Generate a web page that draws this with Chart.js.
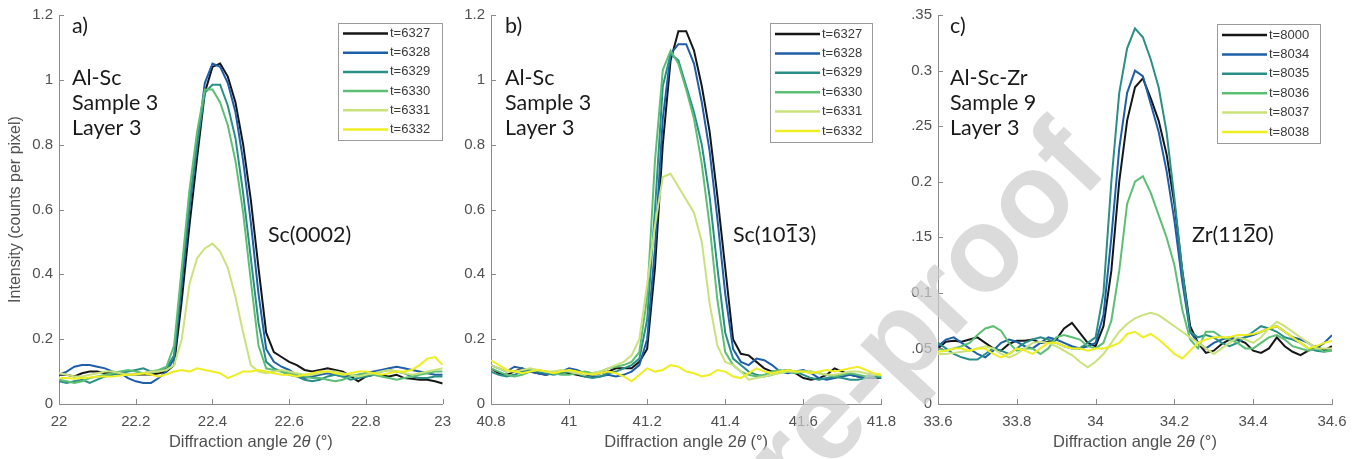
<!DOCTYPE html>
<html>
<head>
<meta charset="utf-8">
<script src="https://cdn.jsdelivr.net/npm/chart.js@4.4.1/dist/chart.umd.min.js"></script>
<style>
  body { margin: 0; background: #fff; width: 1362px; height: 459px; overflow: hidden; position: relative; }
  .panel { position: absolute; top: 0; height: 459px; }
  #wm { position: absolute; left: 0; top: 0; pointer-events: none; }
</style>
</head>
<body>
<div class="panel" style="left:0;width:460px"><canvas id="chartA" width="460" height="459"></canvas></div>
<div class="panel" style="left:460px;width:445px"><canvas id="chartB" width="445" height="459"></canvas></div>
<div class="panel" style="left:905px;width:457px"><canvas id="chartC" width="457" height="459"></canvas></div>
<canvas id="wm" width="1362" height="459"></canvas>
<script>
// ---- panel a) Al-Sc sample 3, Sc(0002) ----
const anglesA = [22.00,22.02,22.04,22.06,22.08,22.10,22.12,22.14,22.16,22.18,
                 22.20,22.22,22.24,22.26,22.28,22.30,22.32,22.34,22.36,22.38,
                 22.40,22.42,22.44,22.46,22.48,22.50,22.52,22.54,22.56,22.58,
                 22.60,22.62,22.64,22.66,22.68,22.70,22.72,22.74,22.76,22.78,
                 22.80,22.82,22.84,22.86,22.88,22.90,22.92,22.94,22.96,22.98,
                 23.00];
const namesA = ['t=6327','t=6328','t=6329','t=6330','t=6331','t=6332'];
const a6327 = [0.090,0.090,0.085,0.095,0.100,0.100,0.095,0.098,0.092,0.090,
               0.090,0.092,0.090,0.095,0.100,0.120,0.320,0.550,0.760,0.960,
               1.040,1.050,1.010,0.930,0.800,0.630,0.420,0.220,0.160,0.145,
               0.130,0.120,0.105,0.100,0.105,0.110,0.105,0.100,0.085,0.070,
               0.085,0.090,0.088,0.085,0.090,0.080,0.078,0.075,0.075,0.070,
               0.063];
const a6328 = [0.090,0.100,0.115,0.120,0.120,0.115,0.110,0.100,0.095,0.080,
               0.070,0.065,0.065,0.080,0.100,0.140,0.370,0.600,0.800,0.990,
               1.050,1.040,0.990,0.900,0.750,0.560,0.340,0.170,0.130,0.115,
               0.105,0.090,0.080,0.085,0.090,0.095,0.090,0.085,0.085,0.090,
               0.095,0.100,0.105,0.110,0.115,0.110,0.105,0.100,0.095,0.090,
               0.090];
const a6329 = [0.070,0.065,0.070,0.075,0.065,0.075,0.085,0.090,0.095,0.100,
               0.105,0.110,0.100,0.100,0.110,0.150,0.400,0.620,0.800,0.960,
               0.985,0.985,0.920,0.820,0.650,0.450,0.250,0.130,0.110,0.100,
               0.090,0.085,0.075,0.070,0.075,0.085,0.090,0.085,0.075,0.080,
               0.085,0.090,0.100,0.105,0.100,0.095,0.085,0.080,0.080,0.085,
               0.085];
const a6330 = [0.075,0.070,0.065,0.070,0.080,0.085,0.090,0.095,0.100,0.105,
               0.100,0.095,0.100,0.105,0.115,0.180,0.420,0.660,0.840,0.970,
               0.970,0.930,0.860,0.750,0.590,0.380,0.180,0.110,0.105,0.100,
               0.095,0.090,0.085,0.080,0.080,0.075,0.070,0.075,0.085,0.090,
               0.095,0.090,0.085,0.080,0.075,0.080,0.085,0.090,0.095,0.100,
               0.100];
const a6331 = [0.095,0.090,0.085,0.085,0.090,0.095,0.100,0.100,0.095,0.090,
               0.090,0.095,0.100,0.100,0.105,0.120,0.200,0.370,0.450,0.480,
               0.495,0.470,0.420,0.330,0.220,0.120,0.100,0.095,0.100,0.105,
               0.100,0.095,0.090,0.090,0.095,0.100,0.100,0.095,0.090,0.085,
               0.090,0.095,0.100,0.105,0.100,0.095,0.090,0.095,0.100,0.105,
               0.110];
const a6332 = [0.080,0.080,0.078,0.080,0.082,0.085,0.085,0.085,0.088,0.090,
               0.092,0.095,0.090,0.085,0.092,0.100,0.105,0.100,0.110,0.105,
               0.100,0.095,0.080,0.090,0.100,0.100,0.105,0.100,0.095,0.090,
               0.090,0.085,0.090,0.095,0.100,0.100,0.095,0.090,0.095,0.100,
               0.100,0.095,0.090,0.095,0.100,0.100,0.105,0.120,0.140,0.145,
               0.120];

// ---- panel b) Al-Sc sample 3, Sc(10-13) ----
const anglesB = [40.80,40.82,40.84,40.86,40.88,40.90,40.92,40.94,40.96,40.98,
                 41.00,41.02,41.04,41.06,41.08,41.10,41.12,41.14,41.16,41.18,
                 41.20,41.22,41.24,41.26,41.28,41.30,41.32,41.34,41.36,41.38,
                 41.40,41.42,41.44,41.46,41.48,41.50,41.52,41.54,41.56,41.58,
                 41.60,41.62,41.64,41.66,41.68,41.70,41.72,41.74,41.76,41.78,
                 41.80];
const namesB = ['t=6327','t=6328','t=6329','t=6330','t=6331','t=6332'];
const b6327 = [0.110,0.095,0.090,0.100,0.110,0.100,0.095,0.090,0.095,0.100,
               0.095,0.090,0.085,0.090,0.095,0.100,0.110,0.110,0.110,0.130,
               0.170,0.420,0.800,1.060,1.150,1.150,1.090,0.980,0.840,0.640,
               0.420,0.200,0.155,0.150,0.130,0.110,0.100,0.100,0.105,0.095,
               0.080,0.075,0.080,0.090,0.110,0.100,0.090,0.085,0.080,0.080,
               0.080];
const b6328 = [0.120,0.110,0.100,0.115,0.110,0.100,0.095,0.090,0.095,0.100,
               0.110,0.105,0.095,0.085,0.085,0.090,0.085,0.090,0.100,0.120,
               0.200,0.480,0.880,1.080,1.110,1.110,1.050,0.930,0.780,0.570,
               0.340,0.170,0.130,0.120,0.140,0.135,0.120,0.100,0.095,0.100,
               0.105,0.095,0.080,0.075,0.080,0.085,0.090,0.085,0.080,0.080,
               0.085];
const b6329 = [0.100,0.090,0.085,0.090,0.100,0.105,0.100,0.095,0.090,0.095,
               0.100,0.095,0.085,0.080,0.085,0.095,0.100,0.110,0.120,0.140,
               0.260,0.600,0.980,1.080,1.060,0.980,0.900,0.800,0.640,0.420,
               0.220,0.140,0.120,0.100,0.090,0.085,0.090,0.100,0.105,0.100,
               0.090,0.080,0.075,0.080,0.085,0.080,0.075,0.075,0.080,0.085,
               0.080];
const b6330 = [0.110,0.100,0.090,0.085,0.090,0.100,0.105,0.100,0.095,0.090,
               0.090,0.095,0.100,0.095,0.100,0.110,0.115,0.120,0.130,0.160,
               0.330,0.750,1.030,1.090,1.050,0.970,0.880,0.740,0.550,0.320,
               0.160,0.120,0.100,0.090,0.085,0.090,0.100,0.105,0.100,0.095,
               0.100,0.100,0.095,0.090,0.085,0.090,0.095,0.090,0.085,0.090,
               0.085];
const b6331 = [0.120,0.110,0.100,0.100,0.105,0.110,0.105,0.100,0.100,0.105,
               0.100,0.095,0.090,0.095,0.100,0.110,0.120,0.130,0.150,0.200,
               0.370,0.550,0.700,0.710,0.670,0.630,0.590,0.500,0.310,0.180,
               0.130,0.120,0.100,0.075,0.080,0.085,0.090,0.095,0.100,0.100,
               0.100,0.100,0.095,0.090,0.090,0.095,0.100,0.100,0.095,0.090,
               0.090];
const b6332 = [0.135,0.120,0.105,0.100,0.095,0.100,0.105,0.100,0.095,0.100,
               0.105,0.100,0.095,0.090,0.095,0.100,0.095,0.085,0.070,0.090,
               0.110,0.100,0.105,0.120,0.115,0.100,0.095,0.085,0.090,0.105,
               0.100,0.085,0.080,0.095,0.110,0.100,0.095,0.100,0.105,0.100,
               0.100,0.095,0.100,0.105,0.100,0.105,0.110,0.115,0.105,0.095,
               0.090];

// ---- panel c) Al-Sc-Zr sample 9, Zr(11-20) ----
const anglesC = [33.60,33.62,33.64,33.66,33.68,33.70,33.72,33.74,33.76,33.78,
                 33.80,33.82,33.84,33.86,33.88,33.90,33.92,33.94,33.96,33.98,
                 34.00,34.02,34.04,34.06,34.08,34.10,34.12,34.14,34.16,34.18,
                 34.20,34.22,34.24,34.26,34.28,34.30,34.32,34.34,34.36,34.38,
                 34.40,34.42,34.44,34.46,34.48,34.50,34.52,34.54,34.56,34.58,
                 34.60];
const namesC = ['t=8000','t=8034','t=8035','t=8036','t=8037','t=8038'];
const c8000 = [0.050,0.056,0.057,0.056,0.058,0.060,0.055,0.050,0.048,0.054,
               0.057,0.057,0.058,0.055,0.056,0.058,0.068,0.073,0.064,0.055,
               0.052,0.070,0.120,0.200,0.255,0.285,0.293,0.275,0.255,0.225,
               0.180,0.120,0.070,0.055,0.046,0.048,0.054,0.058,0.058,0.055,
               0.048,0.046,0.050,0.060,0.052,0.047,0.044,0.048,0.052,0.048,
               0.052];
const c8034 = [0.052,0.058,0.060,0.055,0.050,0.045,0.042,0.048,0.055,0.058,
               0.056,0.052,0.050,0.055,0.060,0.058,0.055,0.052,0.050,0.052,
               0.055,0.080,0.150,0.230,0.280,0.300,0.295,0.270,0.245,0.210,
               0.165,0.110,0.065,0.055,0.050,0.055,0.058,0.060,0.058,0.060,
               0.062,0.065,0.068,0.070,0.065,0.060,0.058,0.055,0.050,0.055,
               0.062];
const c8035 = [0.055,0.050,0.045,0.042,0.040,0.040,0.045,0.050,0.048,0.045,
               0.050,0.055,0.058,0.060,0.058,0.055,0.052,0.050,0.050,0.055,
               0.060,0.100,0.200,0.280,0.320,0.338,0.330,0.310,0.285,0.245,
               0.185,0.120,0.065,0.060,0.062,0.060,0.055,0.052,0.055,0.060,
               0.065,0.070,0.068,0.065,0.060,0.058,0.055,0.050,0.048,0.047,
               0.050];
const c8036 = [0.050,0.048,0.050,0.052,0.055,0.062,0.068,0.070,0.066,0.055,
               0.048,0.050,0.050,0.045,0.050,0.060,0.062,0.060,0.058,0.052,
               0.050,0.055,0.075,0.120,0.180,0.200,0.205,0.190,0.170,0.150,
               0.125,0.085,0.058,0.050,0.065,0.065,0.060,0.058,0.055,0.050,
               0.050,0.055,0.060,0.062,0.058,0.052,0.050,0.048,0.050,0.047,
               0.048];
const c8037 = [0.045,0.045,0.046,0.047,0.048,0.050,0.052,0.050,0.045,0.042,
               0.045,0.050,0.055,0.056,0.055,0.052,0.048,0.044,0.038,0.033,
               0.038,0.045,0.055,0.065,0.072,0.077,0.080,0.082,0.080,0.075,
               0.070,0.065,0.060,0.055,0.050,0.045,0.050,0.055,0.060,0.058,
               0.055,0.060,0.068,0.074,0.070,0.065,0.060,0.055,0.050,0.050,
               0.050];
const c8038 = [0.047,0.048,0.050,0.050,0.048,0.050,0.050,0.045,0.042,0.045,
               0.050,0.048,0.045,0.050,0.055,0.055,0.052,0.050,0.050,0.048,
               0.050,0.050,0.052,0.055,0.063,0.065,0.060,0.063,0.058,0.052,
               0.045,0.041,0.048,0.055,0.058,0.060,0.060,0.060,0.062,0.062,
               0.063,0.065,0.068,0.070,0.065,0.060,0.055,0.050,0.052,0.055,
               0.057];

// ticks
const xTicksA = [22, 22.2, 22.4, 22.6, 22.8, 23];
const xTickLabelsA = ['22', '22.2', '22.4', '22.6', '22.8', '23'];
const xTicksB = [40.8, 41, 41.2, 41.4, 41.6, 41.8];
const xTickLabelsB = ['40.8', '41', '41.2', '41.4', '41.6', '41.8'];
const xTicksC = [33.6, 33.8, 34, 34.2, 34.4, 34.6];
const xTickLabelsC = ['33.6', '33.8', '34', '34.2', '34.4', '34.6'];
const yTicksAB = [0, 0.2, 0.4, 0.6, 0.8, 1, 1.2];
const yTickLabelsAB = ['0', '0.2', '0.4', '0.6', '0.8', '1', '1.2'];
const yTicksC = [0, 0.05, 0.1, 0.15, 0.2, 0.25, 0.3, 0.35];
const yTickLabelsC = ['0', '.05', '0.1', '.15', '0.2', '.25', '0.3', '.35'];

const lineColors = ['#161616', '#1f5ea8', '#2a8f86', '#5cbf74', '#c9e27c', '#eeee22'];
const axisGray = '#8a8a8a';
const labelGray = '#505050';
const sansFont = '"Liberation Sans", Arial, sans-serif';
const noteFont = '21.5px Lato, "Open Sans", sans-serif';

// little inward tick marks, matlab style
const inwardTicks = {
  id: 'inwardTicks',
  afterDraw(chart) {
    const ctx = chart.ctx, a = chart.chartArea;
    const {x, y} = chart.scales;
    ctx.save();
    ctx.strokeStyle = axisGray;
    ctx.lineWidth = 1;
    ctx.beginPath();
    x.ticks.forEach(t => {
      const px = Math.round(x.getPixelForValue(t.value)) + 0.5;
      ctx.moveTo(px, a.bottom); ctx.lineTo(px, a.bottom - 5);
    });
    y.ticks.forEach(t => {
      const py = Math.round(y.getPixelForValue(t.value)) + 0.5;
      ctx.moveTo(a.left, py); ctx.lineTo(a.left + 5, py);
    });
    ctx.stroke();
    ctx.restore();
  }
};

// legend box drawn inside the plot
const boxLegend = {
  id: 'boxLegend',
  afterDatasetsDraw(chart, args, o) {
    const ctx = chart.ctx;
    ctx.save();
    ctx.fillStyle = '#fff';
    ctx.fillRect(o.left, o.top, o.width, o.height);
    ctx.strokeStyle = '#9a9a9a';
    ctx.lineWidth = 1;
    ctx.strokeRect(o.left + 0.5, o.top + 0.5, o.width, o.height);
    ctx.font = '13px ' + sansFont;
    ctx.textBaseline = 'middle';
    chart.data.datasets.forEach((ds, i) => {
      const yy = o.top + o.firstRow + i * o.rowGap;
      ctx.strokeStyle = ds.borderColor;
      ctx.lineWidth = 2.5;
      ctx.beginPath();
      ctx.moveTo(o.left + 5, yy);
      ctx.lineTo(o.left + 5 + o.lineLen, yy);
      ctx.stroke();
      ctx.fillStyle = '#3a3a3a';
      ctx.fillText(ds.label, o.left + 7 + o.lineLen, yy);
    });
    ctx.restore();
  }
};

// panel letter, sample notes and the peak name (with overbar digit)
const panelText = {
  id: 'panelText',
  afterDraw(chart, args, o) {
    const ctx = chart.ctx;
    ctx.save();
    ctx.fillStyle = '#1a1a1a';
    ctx.font = noteFont;
    ctx.textBaseline = 'alphabetic';
    o.lines.forEach((s, i) => ctx.fillText(s, o.x, o.y0 + i * o.gap + (i > 0 ? o.skip : 0)));
    let cx = o.peak.x;
    o.peak.parts.forEach((s, i) => {
      const w = ctx.measureText(s).width;
      ctx.fillText(s, cx, o.peak.y);
      if (i === o.peak.bar) ctx.fillRect(cx + 1, o.peak.y - 18, w - 2, 1.6);
      cx += w;
    });
    ctx.restore();
  }
};

// x title with italic theta
const xTitle = {
  id: 'xTitle',
  afterDraw(chart, args, o) {
    const ctx = chart.ctx, a = chart.chartArea;
    const parts = [['Diffraction angle 2', ''], ['\u03B8', 'italic '], [' (\u00B0)', '']];
    ctx.save();
    let total = 0;
    const widths = parts.map(([s, st]) => {
      ctx.font = st + '16.5px ' + sansFont;
      const w = ctx.measureText(s).width;
      total += w;
      return w;
    });
    let x = (a.left + a.right) / 2 - total / 2;
    ctx.fillStyle = labelGray;
    ctx.textBaseline = 'middle';
    parts.forEach(([s, st], i) => {
      ctx.font = st + '16.5px ' + sansFont;
      ctx.fillText(s, x, o.y);
      x += widths[i];
    });
    ctx.restore();
  }
};

function points(xs, ys) {
  return xs.map((x, i) => ({x: x, y: ys[i]}));
}

function buildPanel(id, p) {
  return new Chart(document.getElementById(id), {
    type: 'line',
    data: {
      datasets: p.values.map((ys, i) => ({
        label: p.names[i],
        data: points(p.angles, ys),
        borderColor: lineColors[i],
        borderWidth: 2,
        pointRadius: 0,
        tension: 0,
        fill: false,
        order: p.values.length - i
      }))
    },
    options: {
      responsive: false,
      animation: false,
      events: [],
      layout: { padding: p.padding },
      plugins: {
        legend: { display: false },
        tooltip: { enabled: false },
        boxLegend: p.legend,
        panelText: p.text,
        xTitle: { y: 442 }
      },
      scales: {
        x: {
          type: 'linear',
          min: p.xTicks[0],
          max: p.xTicks[p.xTicks.length - 1],
          afterBuildTicks: s => { s.ticks = p.xTicks.map(v => ({value: v})); },
          afterFit: s => { s.height = 55; },
          ticks: {
            callback: (v, i) => p.xLabels[i],
            font: { family: sansFont, size: 15 },
            color: labelGray,
            padding: 9,
            maxRotation: 0,
            autoSkip: false
          },
          grid: { display: false, drawTicks: false },
          border: { display: true, color: axisGray, width: 1 }
        },
        y: {
          min: 0,
          max: p.yTicks[p.yTicks.length - 1],
          afterBuildTicks: s => { s.ticks = p.yTicks.map(v => ({value: v})); },
          afterFit: s => { s.width = p.yWidth; },
          ticks: {
            callback: (v, i) => p.yLabels[i],
            font: { family: sansFont, size: 15 },
            color: labelGray,
            padding: 6,
            autoSkip: false
          },
          grid: { display: false, drawTicks: false },
          border: { display: true, color: axisGray, width: 1 },
          title: {
            display: !!p.yTitle,
            text: p.yTitle || '',
            font: { family: sansFont, size: 16 },
            color: labelGray,
            padding: { top: 6, bottom: 0 }
          }
        }
      }
    },
    plugins: [inwardTicks, boxLegend, panelText, xTitle]
  });
}

buildPanel('chartA', {
  angles: anglesA, names: namesA,
  values: [a6327, a6328, a6329, a6330, a6331, a6332],
  xTicks: xTicksA, xLabels: xTickLabelsA, yTicks: yTicksAB, yLabels: yTickLabelsAB,
  yTitle: 'Intensity (counts per pixel)',
  yWidth: 59,
  padding: { left: 0, right: 7, top: 13, bottom: 0 },
  legend: { left: 338, top: 23, width: 104, height: 117, firstRow: 10.5, rowGap: 19.2, lineLen: 45 },
  text: { x: 72, y0: 33, gap: 25, skip: 27, lines: ['a)', 'Al-Sc', 'Sample 3', 'Layer 3'],
          peak: { x: 268, y: 242, parts: ['Sc(0002)'], bar: -1 } }
});

buildPanel('chartB', {
  angles: anglesB, names: namesB,
  values: [b6327, b6328, b6329, b6330, b6331, b6332],
  xTicks: xTicksB, xLabels: xTickLabelsB, yTicks: yTicksAB, yLabels: yTickLabelsAB,
  yWidth: 31,
  padding: { left: 0, right: 21, top: 13, bottom: 0 },
  legend: { left: 310, top: 23, width: 102, height: 119, firstRow: 11, rowGap: 19.4, lineLen: 45 },
  text: { x: 45, y0: 33, gap: 25, skip: 27, lines: ['b)', 'Al-Sc', 'Sample 3', 'Layer 3'],
          peak: { x: 273, y: 242, parts: ['Sc(10', '1', '3)'], bar: 1 } }
});

buildPanel('chartC', {
  angles: anglesC, names: namesC,
  values: [c8000, c8034, c8035, c8036, c8037, c8038],
  xTicks: xTicksC, xLabels: xTickLabelsC, yTicks: yTicksC, yLabels: yTickLabelsC,
  yWidth: 33,
  padding: { left: 0, right: 30, top: 15, bottom: 0 },
  legend: { left: 312, top: 24, width: 103, height: 119, firstRow: 11, rowGap: 19.4, lineLen: 45 },
  text: { x: 45, y0: 33, gap: 25, skip: 27, lines: ['c)', 'Al-Sc-Zr', 'Sample 9', 'Layer 3'],
          peak: { x: 287, y: 242, parts: ['Zr(11', '2', '0)'], bar: 1 } }
});

// "Journal Pre-proof" watermark across panels b and c
const wm = document.getElementById('wm').getContext('2d');
wm.translate(1110, 170);
wm.rotate(-47 * Math.PI / 180);
wm.font = 'bold 120px ' + sansFont;
wm.textAlign = 'right';
wm.fillStyle = 'rgba(205,205,205,0.72)';
wm.fillText('Journal Pre-proof', 0, 0);
</script>
</body>
</html>
